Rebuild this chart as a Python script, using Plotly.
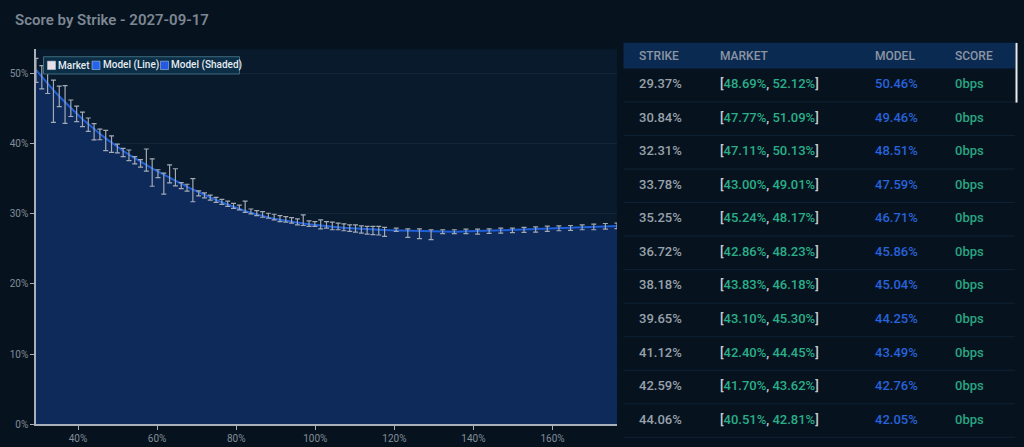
import plotly.graph_objects as go

# ---- data ----
strikes = [
    29.37, 30.84, 32.31, 33.78, 35.25, 36.72, 38.18, 39.65, 41.12, 42.59,
    44.06, 45.53, 47.00, 48.47, 49.94, 51.41, 52.88, 54.35, 55.81, 57.28,
    58.75, 60.22, 61.69, 63.16, 64.63, 66.10, 67.57, 69.04, 70.51, 71.98,
    73.44, 74.91, 76.38, 77.85, 79.32, 80.79, 82.26, 83.73, 85.20, 86.67,
    88.13, 89.60, 91.07, 92.54, 94.01, 95.48, 96.95, 98.42, 99.89, 101.36,
    102.83, 104.30, 105.77, 107.24, 108.71, 110.17, 111.64, 113.11, 114.58, 116.05,
    117.52, 118.99, 120.46, 121.93, 123.40, 124.87, 126.34, 127.81, 129.28, 130.75,
    132.22, 133.69, 135.16, 136.63, 138.10, 139.57, 141.04, 142.50, 143.97, 145.44,
    146.91, 148.38, 149.85, 151.32, 152.79, 154.26, 155.73, 157.20, 158.67, 160.14,
    161.61, 163.08, 164.55, 166.02, 167.49, 168.96, 170.43, 171.90, 173.36, 174.83,
    176.30,
]

model_iv = [
    50.46, 49.46, 48.51, 47.59, 46.71, 45.86, 45.04, 44.25, 43.49, 42.76,
    42.05, 41.37, 40.72, 40.10, 39.51, 38.95, 38.41, 37.89, 37.39, 36.91,
    36.44, 35.98, 35.53, 35.09, 34.66, 34.24, 33.83, 33.43, 33.04, 32.67,
    32.31, 31.96, 31.62, 31.29, 30.97, 30.66, 30.38, 30.12, 29.88, 29.66,
    29.46, 29.28, 29.12, 28.97, 28.83, 28.70, 28.58, 28.47, 28.37, 28.28,
    28.20, 28.12, 28.05, 27.98, 27.92, 27.86, 27.81, 27.76, 27.72, 27.68,
    27.65, 27.62, 27.60, 27.56, 27.52, 27.49, 27.46, 27.44, 27.43, 27.42,
    27.42, 27.42, 27.43, 27.44, 27.46, 27.48, 27.50, 27.53, 27.56, 27.59,
    27.62, 27.65, 27.68, 27.71, 27.74, 27.77, 27.80, 27.83, 27.86, 27.89,
    27.92, 27.95, 27.98, 28.01, 28.04, 28.07, 28.10, 28.13, 28.16, 28.19,
    28.22,
]

# market bid / ask (None where no quote)
market_bid = [
    48.69, 47.77, 47.11, 43.00, 45.24, 42.86, 43.83, 43.10, 42.40, 41.70,
    40.51, 40.52, 38.97, 38.73, 38.64, 38.12, 37.56, 37.09, 36.62, 36.06,
    33.90, 35.12, 32.77, 34.37, 33.94, 33.57, 33.19, 31.69, 32.54, 32.25,
    31.93, 31.59, 31.31, 31.03, 30.75, 30.52, 30.19, 29.95, 29.72, 29.48,
    29.34, 29.11, 28.87, 28.78, 28.64, 28.40, 28.31, 28.17, 28.17, 27.84,
    27.93, 27.70, 27.70, 27.56, 27.46, 27.37, 27.23, 27.09, 27.00, 26.95,
    26.76, None, 27.46, None, 26.62, None, 26.43, None, 26.29, None,
    27.14, None, 27.14, None, 27.14, None, 27.09, None, 27.18, None,
    27.23, None, 27.28, None, 27.32, None, 27.37, None, 27.46, None,
    27.56, None, 27.61, None, 27.70, None, 27.70, None, 27.79, None,
    27.85,
]
market_ask = [
    52.12, 51.09, 50.13, 49.01, 48.17, 48.23, 46.18, 45.30, 44.45, 43.62,
    42.81, 42.02, 41.87, 41.08, 39.91, 39.30, 39.06, 38.12, 37.70, 39.20,
    37.79, 36.25, 35.77, 36.95, 36.39, 34.41, 34.18, 34.98, 33.24, 32.96,
    32.63, 32.30, 32.02, 31.79, 31.46, 31.22, 31.78, 30.66, 30.42, 30.28,
    30.05, 29.91, 29.72, 29.58, 29.44, 29.25, 29.81, 28.97, 28.87, 29.11,
    28.87, 28.78, 28.64, 28.55, 28.40, 28.40, 28.26, 28.17, 28.17, 28.17,
    28.03, None, 27.93, None, 27.84, None, 27.84, None, 27.70, None,
    27.70, None, 27.70, None, 27.79, None, 27.79, None, 27.84, None,
    27.93, None, 27.93, None, 28.03, None, 28.12, None, 28.22, None,
    28.26, None, 28.31, None, 28.40, None, 28.50, None, 28.59, None,
    28.65,
]

score_bps = [0] * 11
x_ticks = [40, 60, 80, 100, 120, 140, 160]
y_ticks = [0, 10, 20, 30, 40, 50]

W, H = 1024, 447
FONT = "Roboto"


def px(x):
    return x / W


def py(y):
    return 1 - y / H


# market error bars
mk_x, mk_mid, mk_up, mk_dn = [], [], [], []
for k, b, a in zip(strikes, market_bid, market_ask):
    if b is None:
        continue
    mid = (a + b) / 2
    mk_x.append(k)
    mk_mid.append(mid)
    mk_up.append(a - mid)
    mk_dn.append(mid - b)

fig = go.Figure()

# Model (Shaded)
fig.add_trace(go.Scatter(
    x=strikes, y=model_iv, mode="lines", line=dict(width=0),
    fill="tozeroy", fillcolor="#0d2a5b", hoverinfo="skip", showlegend=False,
))
# Model (Line)
fig.add_trace(go.Scatter(
    x=strikes, y=model_iv, mode="lines",
    line=dict(color="#1f5fd9", width=2), showlegend=False,
))
# Market
fig.add_trace(go.Scatter(
    x=mk_x, y=mk_mid, mode="markers", marker=dict(size=1, opacity=0),
    error_y=dict(type="data", symmetric=False, array=mk_up, arrayminus=mk_dn,
                 color="#a3aab4", thickness=1.2, width=2.5),
    showlegend=False,
))

axis_font = dict(family=FONT, size=10, color="#838c97")

fig.update_layout(
    width=W, height=H,
    margin=dict(l=0, r=0, t=0, b=0),
    paper_bgcolor="#06131f",
    plot_bgcolor="#081a2c",
    font=dict(family=FONT),
    xaxis=dict(
        domain=[px(36), px(617)], range=[strikes[0], strikes[-1]],
        tickvals=x_ticks, ticktext=[f"{v}%" for v in x_ticks],
        showgrid=False, zeroline=False,
        showline=True, linecolor="#a9b0b9", linewidth=1.5,
        ticks="outside", ticklen=4, tickcolor="#a9b0b9",
        tickfont=axis_font,
    ),
    yaxis=dict(
        domain=[py(430), py(50)], range=[0, 53.4],
        tickvals=y_ticks, ticktext=[f"{v}%" for v in y_ticks],
        showgrid=True, gridcolor="#11263b", gridwidth=1, zeroline=False,
        showline=True, linecolor="#a9b0b9", linewidth=1.5,
        ticks="outside", ticklen=4, tickcolor="#a9b0b9",
        tickfont=axis_font,
    ),
)

shapes = []
ann = []

# title
ann.append(dict(
    x=px(12.5), y=py(20.5), xref="paper", yref="paper", xanchor="left", yanchor="middle",
    text="Score by Strike - 2027-09-17", showarrow=False,
    font=dict(family=FONT, size=15, color="#7d8793", weight=600),
))

# custom legend
shapes.append(dict(type="rect", xref="paper", yref="paper",
                   x0=px(43.5), x1=px(239.5), y0=py(75), y1=py(57.5),
                   fillcolor="#0c2f47", line=dict(color="#3e6c7d", width=1)))
legend_items = [("Market", "#e6dfe8", 47.5), ("Model (Line)", "#2463eb", 92),
                ("Model (Shaded)", "#2458e6", 160.5)]
for name, col, x0 in legend_items:
    shapes.append(dict(type="rect", xref="paper", yref="paper",
                       x0=px(x0), x1=px(x0 + 8), y0=py(70.5), y1=py(62),
                       fillcolor=col, line=dict(color="#c9d4e0", width=0.5)))
    ann.append(dict(x=px(x0 + 8.5), y=py(66.3), xref="paper", yref="paper",
                    xanchor="left", yanchor="middle", text=name, showarrow=False,
                    font=dict(family=FONT, size=10, color="#e6ebf0", weight=500)))

# table header
shapes.append(dict(type="rect", xref="paper", yref="paper",
                   x0=px(623.5), x1=px(1015), y0=py(69.5), y1=py(43.3),
                   fillcolor="#0b2a52", line=dict(width=0)))
header = [("STRIKE", 637), ("MARKET", 717.5), ("MODEL", 872.5), ("SCORE", 953)]
for txt, x in header:
    ann.append(dict(x=px(x), y=py(56.8), xref="paper", yref="paper",
                    xanchor="left", yanchor="middle", text=txt, showarrow=False,
                    font=dict(family=FONT, size=12, color="#8c96a2", weight=500)))

# table rows
for i in range(11):
    yc = 84.8 + 34 * i
    ann.append(dict(x=px(637), y=py(yc), xref="paper", yref="paper",
                    xanchor="left", yanchor="middle", text=f"{strikes[i]:.2f}%",
                    showarrow=False,
                    font=dict(family=FONT, size=13, color="#98a1ab", weight=500)))
    mkt = (f'<span style="color:#c9ced4">[</span>{market_bid[i]:.2f}%'
           f'<span style="color:#c9ced4">, </span>{market_ask[i]:.2f}%'
           f'<span style="color:#c9ced4">]</span>')
    ann.append(dict(x=px(717.5), y=py(yc), xref="paper", yref="paper",
                    xanchor="left", yanchor="middle", text=mkt, showarrow=False,
                    font=dict(family=FONT, size=13, color="#2aae88", weight=500)))
    ann.append(dict(x=px(872.5), y=py(yc), xref="paper", yref="paper",
                    xanchor="left", yanchor="middle", text=f"{model_iv[i]:.2f}%",
                    showarrow=False,
                    font=dict(family=FONT, size=13, color="#2862dc", weight=500)))
    ann.append(dict(x=px(953), y=py(yc), xref="paper", yref="paper",
                    xanchor="left", yanchor="middle", text=f"{score_bps[i]}bps",
                    showarrow=False,
                    font=dict(family=FONT, size=13, color="#2aa582", weight=500)))
    ysep = 103.3 + 34 * i
    shapes.append(dict(type="line", xref="paper", yref="paper",
                       x0=px(623.5), x1=px(1015), y0=py(ysep), y1=py(ysep),
                       line=dict(color="#0f2234", width=1)))

# scrollbar
shapes.append(dict(type="line", xref="paper", yref="paper",
                   x0=px(1016.5), x1=px(1016.5), y0=py(43.5), y1=py(104),
                   line=dict(color="#e8ecf0", width=2)))

fig.update_layout(shapes=shapes, annotations=ann)
# page has a default body margin; drop it so the figure sits at (0, 0)
fig.write_html("out.html", config={"displayModeBar": False},
               post_script="document.body.style.margin='0';"
               "document.body.style.overflow='hidden';"
               "document.body.style.background='#06131f';")
